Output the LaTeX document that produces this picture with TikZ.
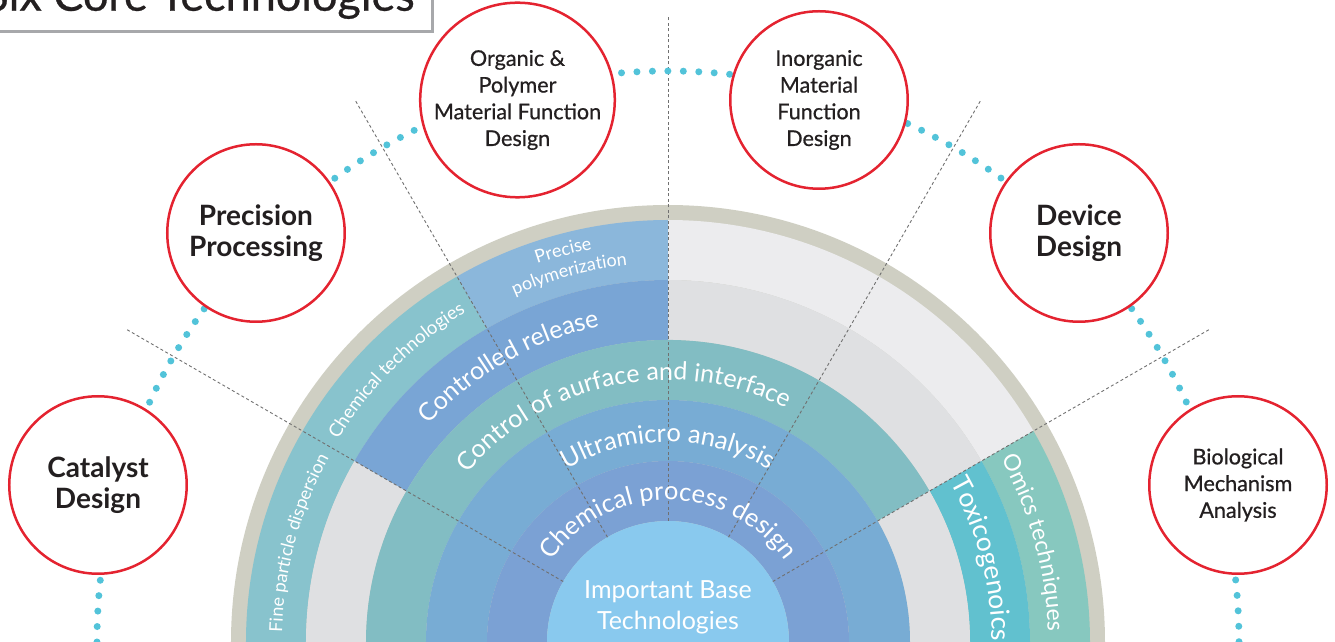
\documentclass[tikz,border=0pt]{standalone}
\usepackage{fontspec}
\setmainfont{Lato}
\newfontfamily\mediumfont[FakeBold=0.6]{Lato}
\usepackage{tikz}
\usetikzlibrary{decorations.text}

\definecolor{rim}{HTML}{CFCFC3}
\definecolor{baseblue}{HTML}{89C9EE}
\definecolor{processblue}{HTML}{7BA1D4}
\definecolor{microblue}{HTML}{78ACD4}
\definecolor{surfteal}{HTML}{82BDC3}
\definecolor{releaseblue}{HTML}{79A5D5}
\definecolor{chemteal}{HTML}{88C3CD}
\definecolor{polyblue}{HTML}{8BB7DB}
\definecolor{toxteal}{HTML}{61C1CF}
\definecolor{omicsteal}{HTML}{87C8BF}
\definecolor{midgray}{HTML}{DFE0E2}
\definecolor{palegray}{HTML}{ECECEE}
\definecolor{corered}{HTML}{E42330}
\definecolor{coretext}{HTML}{231F20}
\definecolor{dotblue}{HTML}{52C3D9}
\definecolor{spokegray}{HTML}{707070}
\definecolor{titlegray}{HTML}{A7A8AB}

% annular piece: colour, start angle, end angle, inner radius, outer radius
\newcommand{\ringband}[5]{%
  \fill[#1] (#2:#4) arc (#2:#3:#4) -- (#3:#5) arc (#3:#2:#5) -- cycle;}
% white text on an arc: radius, start angle, end angle, alignment, text
\newcommand{\ringtext}[5]{%
  \path[decorate, decoration={text along path, text align=#4,
    text color=white, text={#5}}] (#2:#1) arc (#2:#3:#1);}

\begin{document}
\begin{tikzpicture}[x=1pt, y=1pt,
    core/.style={circle, draw=corered, line width=2.5pt, fill=white,
      minimum size=177.5pt, inner sep=0pt, align=center, text=coretext},
    bigcore/.style={core, font=\fontsize{28}{31}\selectfont\bfseries},
    smallcore/.style={core, font=\fontsize{21.6}{26.7}\selectfont\mediumfont},
    spoke/.style={draw=spokegray, line width=0.9pt, dash pattern=on 3pt off 2.5pt},
    dotline/.style={draw=dotblue, line width=7pt, line cap=round,
      dash pattern=on 0pt off 15.464pt}]

    \useasboundingbox (-668,0) rectangle (667,642);
    \clip (-668,0) rectangle (667,642);

    % Title box
    \node[draw=titlegray, line width=2.5pt, fill=white, anchor=south east,
      inner xsep=18pt, inner ysep=21pt, text depth=0pt, text=coretext,
      font=\fontsize{45}{45}\selectfont\mediumfont] (title) at (-234,609) {Six Core Technologies};

    % Rim of the half disc
    \fill[rim] (180:437) arc (180:0:437) -- cycle;

    % Outer ring
    \ringband{chemteal}{180}{120}{362}{422}
    \ringband{polyblue}{120}{90}{362}{422}
    \ringband{palegray}{90}{30}{362}{422}
    \ringband{omicsteal}{30}{0}{362}{422}
    % Fourth ring
    \ringband{midgray}{180}{150}{302}{362}
    \ringband{releaseblue}{150}{90}{302}{362}
    \ringband{midgray}{90}{30}{302}{362}
    \ringband{toxteal}{30}{0}{302}{362}
    % Third ring
    \ringband{surfteal}{180}{30}{242}{302}
    \ringband{midgray}{30}{0}{242}{302}
    % Second and first ring
    \ringband{microblue}{180}{0}{181}{242}
    \ringband{processblue}{180}{0}{121}{181}
    % Base
    \fill[baseblue] (180:121) arc (180:0:121) -- cycle;

    % Spokes
    \foreach \a in {30,60,...,150} {
        \draw[spoke] (\a:121) -- (\a:625);
    }

    % Ring labels
    \ringtext{142}{170}{10}{center}{|\fontsize{25.5}{25.5}\selectfont|Chemical process design}
    \ringtext{200}{170}{10}{center}{|\fontsize{25.5}{25.5}\selectfont|Ultramicro analysis}
    \ringtext{262}{175}{28}{center}{|\fontsize{25}{25}\selectfont|Control of aurface and interface}
    \ringtext{323}{150}{90}{center}{|\fontsize{25}{25}\selectfont|Controlled release}
    \ringtext{386}{180}{150}{center}{|\fontsize{18}{18}\selectfont|Fine particle dispersion}
    \ringtext{387}{150}{120}{center}{|\fontsize{18.5}{18.5}\selectfont|Chemical technologies}
    \ringtext{400}{120}{90}{center}{|\fontsize{18}{18}\selectfont|Precise}
    \ringtext{379}{120}{90}{center}{|\fontsize{18}{18}\selectfont|polymerization}
    \ringtext{324}{29.5}{-20}{left}{|\fontsize{26.5}{26.5}\selectfont|Toxicogenoics}
    \ringtext{380}{28.8}{-20}{left}{|\fontsize{23}{23}\selectfont|Omics techniques}

    \node[text=white, align=center, font=\fontsize{25}{31}\selectfont] (base) at (0,35)
        {Important Base\\Technologies};

    % Dotted arc behind the six circles
    \draw[dotline] (180:571) arc (180:0:571);

    % The six core technologies
    \node[bigcore] (catalyst) at (-570,157) {Catalyst\\Design};
    \node[bigcore] (precision) at (-412,409) {Precision\\Processing};
    \node[smallcore] (organic) at (-150.5,542) {Organic \&\\Polymer\\Material Function\\Design};
    \node[smallcore] (inorganic) at (151,542) {Inorganic\\Material\\Function\\Design};
    \node[bigcore] (device) at (411,409) {Device\\Design};
    \node[smallcore] (bio) at (570,157) {Biological\\Mechanism\\Analysis};
\end{tikzpicture}
\end{document}
